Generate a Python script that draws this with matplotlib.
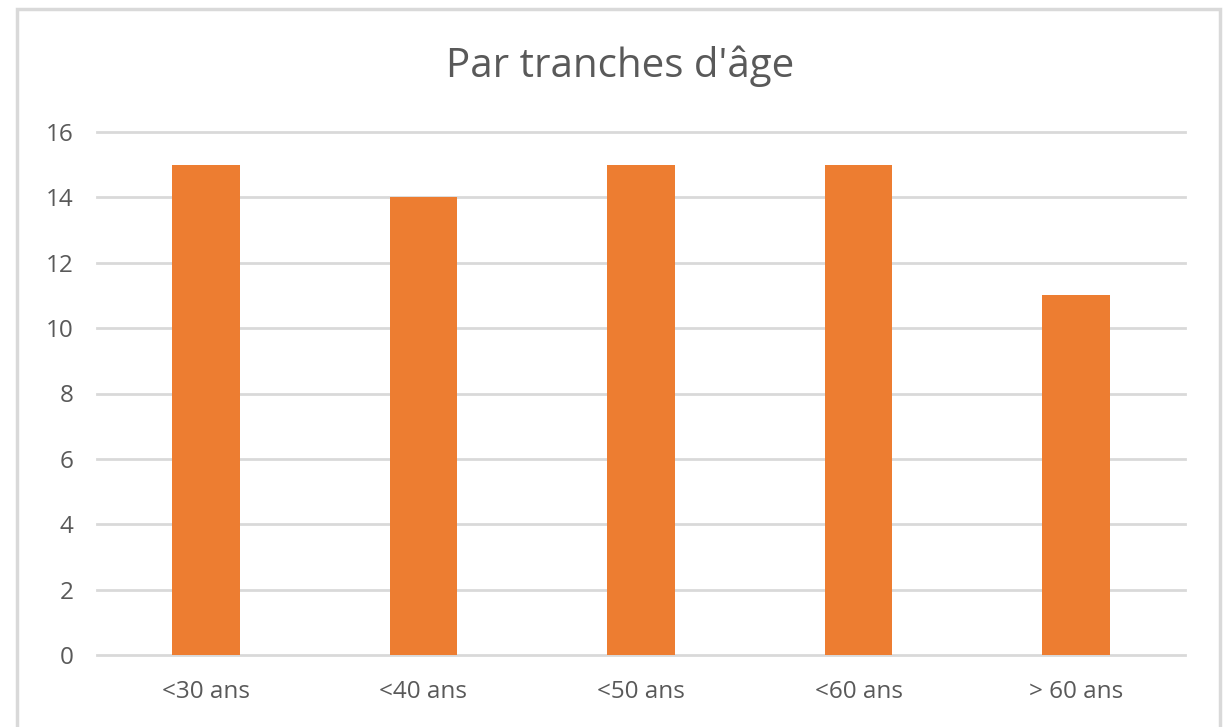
import matplotlib.pyplot as plt
from matplotlib.patches import Rectangle

categories = ['<30 ans', '<40 ans', '<50 ans', '<60 ans', '> 60 ans']
values = [15, 14, 15, 15, 11]
yticks = [0, 2, 4, 6, 8, 10, 12, 14, 16]

TEXT = '#595959'
GRID = '#D9D9D9'
BAR = '#ED7D31'

plt.rcParams['font.family'] = ['Open Sans', 'DejaVu Sans']

fig = plt.figure(figsize=(12.25, 7.27), dpi=100)
ax = fig.add_axes([97 / 1225, 72 / 727, 1088 / 1225, 523 / 727])

ax.bar(range(len(categories)), values, width=0.31, color=BAR, zorder=3)
ax.set_xlim(-0.5, len(categories) - 0.5)
ax.set_ylim(0, 16)
ax.set_yticks(yticks)
ax.set_xticks(range(len(categories)))
ax.set_xticklabels(categories)
ax.yaxis.grid(True, color=GRID, linewidth=2, zorder=0)
for gl in ax.get_ygridlines():
    gl.set_clip_on(False)
ax.set_axisbelow(True)

for s in ax.spines.values():
    s.set_visible(False)
ax.tick_params(axis='both', length=0, colors=TEXT, labelsize=17.5)
ax.tick_params(axis='x', pad=18)
ax.tick_params(axis='y', pad=17)

fig.text(620 / 1225, 1 - 66 / 727, "Par tranches d'âge", ha='center', va='center',
         fontsize=29, color=TEXT)

# cadre gris autour du graphique
fig.patches.append(Rectangle((17 / 1225, -0.05), 1203 / 1225, 1.05 - 8.5 / 727,
                             transform=fig.transFigure, fill=False,
                             edgecolor=GRID, linewidth=2.5))

fig.savefig('out.png', dpi=100, facecolor='white')
